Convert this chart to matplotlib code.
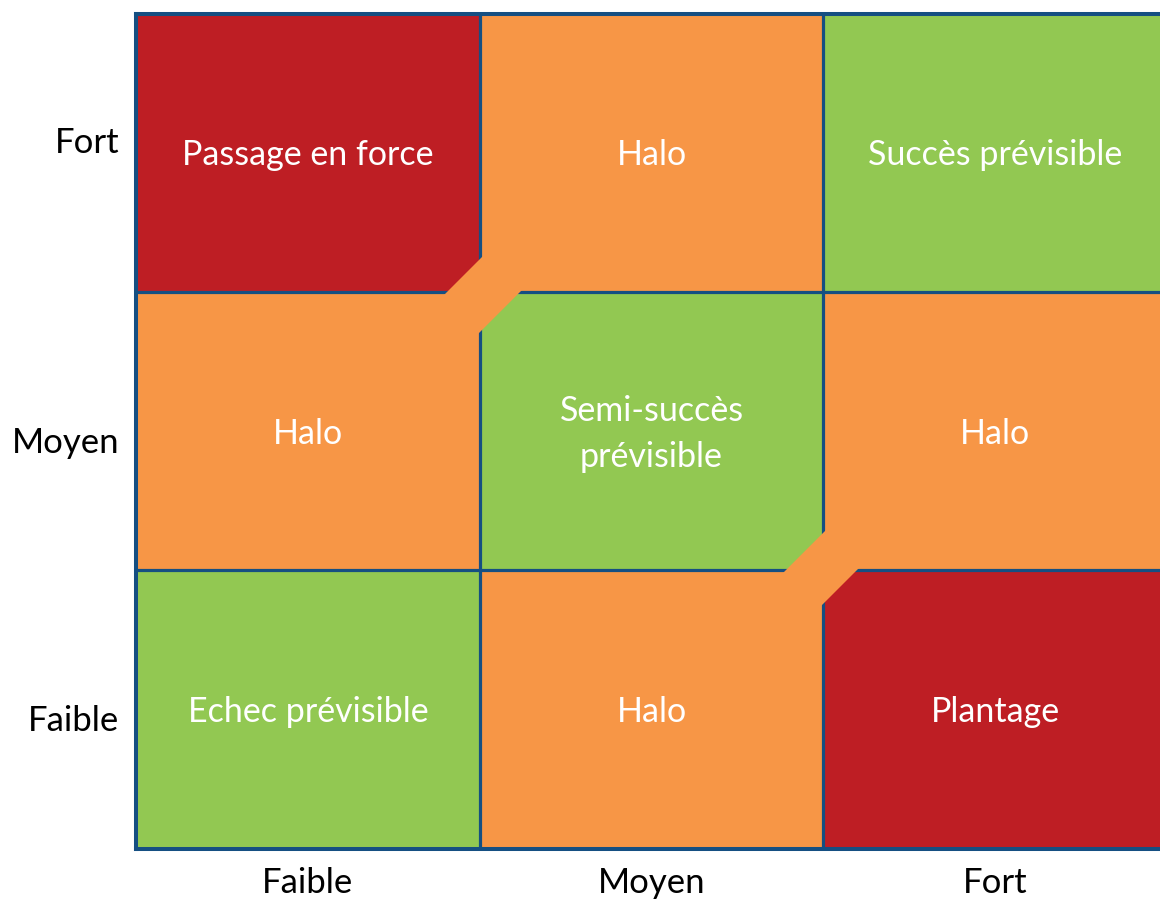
import matplotlib
matplotlib.use("Agg")
import matplotlib.pyplot as plt
from matplotlib.patches import Rectangle, Polygon
import matplotlib.transforms as mtransforms

# ---- data ----
x_labels = ["Faible", "Moyen", "Fort"]
y_labels = ["Faible", "Moyen", "Fort"]          # bottom -> top
cell_text = [                                    # rows bottom -> top, cols left -> right
    ["Echec prévisible", "Halo", "Plantage"],
    ["Halo", "Semi-succès\nprévisible", "Halo"],
    ["Passage en force", "Halo", "Succès prévisible"],
]
cell_level = [                                   # 0 = green, 1 = orange, 2 = red
    [0, 1, 2],
    [1, 0, 1],
    [2, 1, 0],
]
# orange connectors at grid corners (col, row of corner)
connectors = [(1, 2), (2, 1)]

colors = {0: "#92C852", 1: "#F79646", 2: "#BE1E24"}
line_color = "#154F82"
font = ["Lato", "DejaVu Sans"]

W, H = 1160, 900
fig = plt.figure(figsize=(W / 100, H / 100), dpi=100)
left, right, top, bottom = 136, 1167, 13.5, 848.5
ax = fig.add_axes([left / W, 1 - bottom / H, (right - left) / W, (bottom - top) / H])
ax.set_xlim(0, 3)
ax.set_ylim(0, 3)

for r in range(3):
    for c in range(3):
        ax.add_patch(Rectangle((c, r), 1, 1, facecolor=colors[cell_level[r][c]],
                               edgecolor="none", zorder=1))
        ax.text(c + 0.5, r + 0.49, cell_text[r][c], ha="center", va="center",
                color="white", fontsize=24.5, family=font, linespacing=1.55, zorder=5)

for v in (1, 2):
    ax.axvline(v, color=line_color, lw=2.3, zorder=2)
    ax.axhline(v, color=line_color, lw=2.3, zorder=2)

# connector bands (pixel offsets, screen y down)
band_edges = {(1, 2): (-32.5, 40.5), (2, 1): (-37.5, 33.5)}
t = 50
for (cx, cy) in connectors:
    a, b = band_edges[(cx, cy)]
    verts = [(a + t, -t), (b + t, -t), (b - t, t), (a - t, t)]
    trans = mtransforms.Affine2D().scale(1, -1) + mtransforms.ScaledTranslation(cx, cy, ax.transData)
    ax.add_patch(Polygon(verts, closed=True, facecolor=colors[1], edgecolor="none",
                         transform=trans, zorder=3))

for s in ("top", "left", "bottom"):
    ax.spines[s].set_color(line_color)
    ax.spines[s].set_linewidth(2.9)
    ax.spines[s].set_zorder(4)
ax.spines["right"].set_visible(False)

ax.set_xticks([0.5, 1.5, 2.5])
ax.set_xticklabels(x_labels, fontsize=25, family=font, color="black")
ax.set_yticks([0.468, 1.467, 2.545])
ax.set_yticklabels(y_labels, fontsize=25, family=font, color="black")
ax.tick_params(axis="both", length=0)
ax.tick_params(axis="x", pad=13)
ax.tick_params(axis="y", pad=12)

fig.savefig("out.png", dpi=100)
